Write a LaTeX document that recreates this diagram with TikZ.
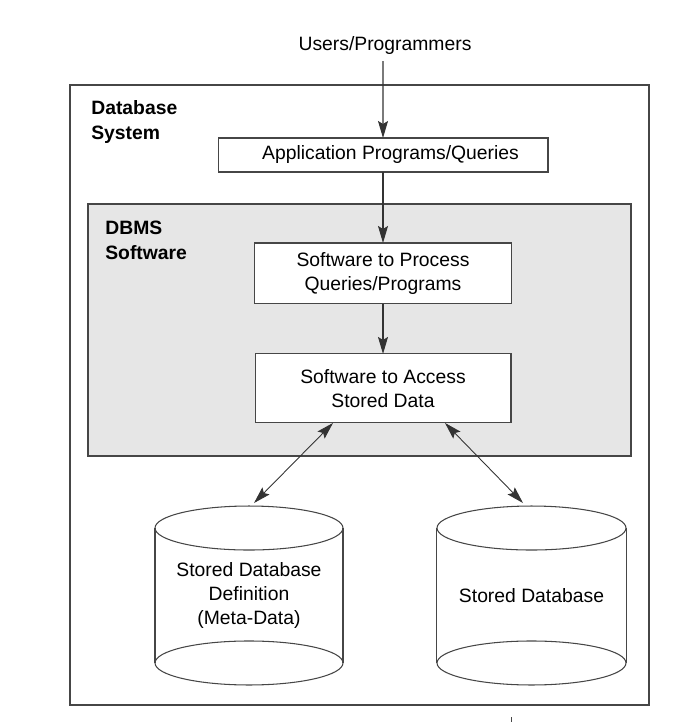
\documentclass[tikz,border=0pt]{standalone}
\usepackage{fontspec}
\setmainfont{Liberation Sans}
\usetikzlibrary{arrows.meta}
\definecolor{linegray}{RGB}{70,70,70}
\definecolor{dbmsgray}{RGB}{230,230,230}
\begin{document}
\begin{tikzpicture}[x=0.02cm, y=-0.02cm, node distance=2.35cm,
  font=\fontsize{11}{13.7}\selectfont,
  box/.style={draw=linegray, line width=0.6pt, fill=white, align=center, outer sep=0pt},
  store/.style={minimum width=3.76cm, minimum height=3.58cm, align=center, outer sep=0pt},
  tag/.style={align=left, anchor=north west, inner sep=0pt, font=\fontsize{11}{14.2}\selectfont\bfseries},
  arr/.style={line width=0.6pt, draw=black!80, -{Stealth[length=3.4mm, width=2mm, inset=0.6mm]}},
  biarr/.style={line width=0.5pt, draw=black!80, {Stealth[length=3.4mm, width=2mm, inset=0.6mm]}-{Stealth[length=3.4mm, width=2mm, inset=0.6mm]}}]
\useasboundingbox (0,0) rectangle (695,722);
% frames
\draw[linegray, line width=0.7pt] (70,85) rectangle (649,705);
\draw[linegray, line width=0.7pt, fill=dbmsgray] (88,204) rectangle (631,456);
\node (sys) [tag] at (91,100) {Database\\System};
\node (dbms) [tag] at (105,221) {DBMS\\Software};
% boxes
\node (users) at (385,46) {Users/Programmers};
\node (app)[box, minimum width=6.6cm, minimum height=0.68cm] at (383,155) {\hspace*{0.3cm}Application Programs/Queries};
\node (proc)[box, minimum width=5.14cm, minimum height=1.22cm] [below of = app, node distance=2.37cm] {Software to Process\\Queries/Programs};
\node (acc)[box, minimum width=5.12cm, minimum height=1.38cm] [below of = proc, node distance=2.3cm] {Software to Access\\Stored Data};
% stores
\node (meta)[store] at (249,595.5) {Stored Database\\Definition\\(Meta-Data)};
\node (db)[store] at (531.5,595.5) {Stored Database};
\draw[linegray, line width=0.6pt] ([yshift=-0.44cm]meta.north) ellipse [x radius=1.88cm, y radius=0.44cm];
\draw[linegray, line width=0.6pt] ([yshift=0.44cm]meta.south) ellipse [x radius=1.88cm, y radius=0.44cm];
\draw[linegray, line width=0.6pt] ([yshift=-0.44cm]meta.north west) -- ([yshift=0.44cm]meta.south west);
\draw[linegray, line width=0.6pt] ([yshift=-0.44cm]meta.north east) -- ([yshift=0.44cm]meta.south east);
\draw[linegray, line width=0.6pt] ([yshift=-0.44cm]db.north) ellipse [x radius=1.89cm, y radius=0.44cm];
\draw[linegray, line width=0.6pt] ([yshift=0.44cm]db.south) ellipse [x radius=1.89cm, y radius=0.44cm];
\draw[linegray, line width=0.6pt] ([xshift=-0.02cm, yshift=-0.44cm]db.north west) -- ([xshift=-0.02cm, yshift=0.44cm]db.south west);
\draw[linegray, line width=0.6pt] ([xshift=0.02cm, yshift=-0.44cm]db.north east) -- ([xshift=0.02cm, yshift=0.44cm]db.south east);
% connectors
\draw[arr] ([xshift=-0.04cm]users.south) -- (app);
\draw[arr] (app) -- (proc);
\draw[arr] (proc) -- (acc);
\draw[biarr] ([xshift=-1cm]acc.south) -- ([xshift=0.1cm, yshift=0.06cm]meta.north);
\draw[biarr] ([xshift=1.24cm]acc.south) -- ([xshift=-0.17cm, yshift=0.06cm]db.north);
\draw[linegray, line width=0.4pt] (511,717) -- (511,722);
\end{tikzpicture}
\end{document}
